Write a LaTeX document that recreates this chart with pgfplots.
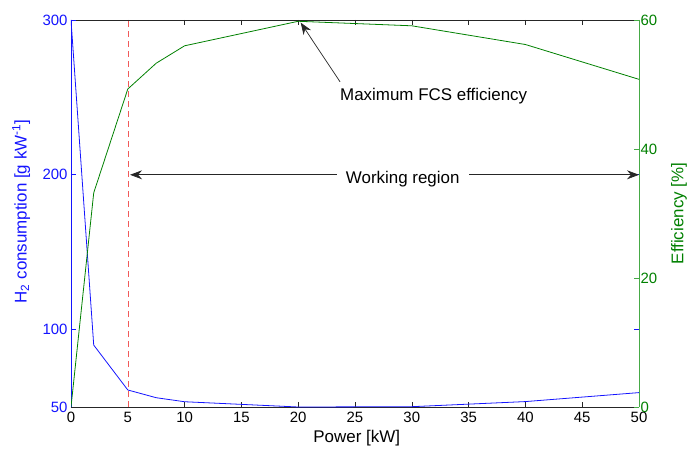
\documentclass[border=0pt]{standalone}
\usepackage{pgfplots}
\pgfplotsset{compat=1.18}
\usepackage{fontspec}
\setmainfont{Liberation Sans}
\usetikzlibrary{arrows.meta}
\definecolor{mblue}{RGB}{20,20,255}
\definecolor{mgreen}{RGB}{0,128,0}
\definecolor{mgreenax}{RGB}{70,170,70}
\definecolor{mred}{RGB}{240,90,90}
\pgfplotsset{
  common/.style={
    scale only axis, width=568bp, height=387bp,
    xmin=0, xmax=50,
    tick align=inside, major tick length=5bp,
    /pgf/number format/assume math mode=true,
  }
}
\begin{document}
\begin{tikzpicture}
% top black line with ticks
\begin{axis}[
  common, ymin=50, ymax=300,
  axis x line*=top, axis y line=none,
  xtick={0,5,...,50}, xticklabels={},
  axis line style={black!85, line width=0.6pt},
  xtick style={black!85, line width=0.6pt},
]
\end{axis}
% blue ticks mirrored on right side
\begin{axis}[
  common, ymin=50, ymax=300,
  axis x line=none, axis y line*=right,
  ytick={100,200}, yticklabels={},
  axis line style={draw=none},
  ytick style={mblue, line width=0.6pt},
]
\end{axis}
\begin{axis}[
  name=main,
  common, ymin=50, ymax=300,
  axis x line*=bottom, axis y line*=left,
  xtick={0,5,...,50}, ytick={50,100,200,300},
  x axis line style={black!85, line width=0.6pt},
  y axis line style={mblue, line width=0.6pt},
  ytick style={mblue, line width=0.6pt},
  xtick style={black!85, line width=0.6pt},
  xticklabel style={font=\fontsize{15}{18}\selectfont, yshift=-2bp},
  yticklabel style={mblue, font=\fontsize{15}{18}\selectfont},
  xlabel={Power [kW]},
  ylabel={H\textsubscript{2} consumption [g kW\textsuperscript{-1}]},
  xlabel style={font=\fontsize{17}{20}\selectfont, at={(axis description cs:0.503,-0.060)}, anchor=north, inner sep=0pt},
  ylabel style={mblue, font=\fontsize{17}{20}\selectfont, at={(axis description cs:-0.1039,0.505)}, anchor=north, inner sep=0pt},
]
\addplot[mblue, line width=0.8pt] coordinates {
  (0,300) (2,90) (5,61) (7.5,56) (10,53.4) (20,50) (30,50.2) (40,53.5) (50,59.3)
};
\addplot[mred, dash pattern=on 6bp off 4bp, line width=0.6pt] coordinates {(5,50) (5,300)};
\draw[black!85, line width=0.7pt, {Stealth[length=12bp,width=9bp,inset=4bp]}-{Stealth[length=12bp,width=9bp,inset=4bp]}] (axis cs:5.2,200) -- (axis cs:50,200);
\node[fill=white, inner xsep=9bp, inner ysep=2bp, anchor=base, font=\fontsize{17}{20}\selectfont] at (axis cs:29.2,194.7) {Working region};
\node[inner sep=0pt, anchor=base west, font=\fontsize{17}{20}\selectfont] at (axis cs:23.68,248.3) {Maximum FCS efficiency};
\draw[black!85, line width=0.7pt, -{Stealth[length=12bp,width=9bp,inset=4bp]}] (axis cs:23.68,260.1) -- (axis cs:20.22,298.3);
\end{axis}
\begin{axis}[
  common, ymin=0, ymax=60,
  axis x line=none, axis y line*=right,
  ytick={0,20,40,60},
  axis line style={mgreenax, line width=0.6pt},
  ytick style={mgreenax, line width=0.6pt},
  yticklabel style={mgreen, font=\fontsize{15}{18}\selectfont, xshift=-2bp},
  ylabel={Efficiency [\%]},
  ylabel style={mgreen, font=\fontsize{17}{20}\selectfont, at={(axis description cs:1.0563,0.50)}, anchor=north, inner sep=0pt},
]
\addplot[mgreen, line width=0.8pt] coordinates {
  (0,0) (2,33.2) (5,49.3) (7.5,53.3) (10,56) (20,59.8) (30,59.1) (40,56.2) (50,50.8)
};
\end{axis}
\pgfresetboundingbox
\path[use as bounding box] ([shift={(-71bp,-43bp)}]main.south west) rectangle ++(687bp,450bp);
\end{tikzpicture}
\end{document}
